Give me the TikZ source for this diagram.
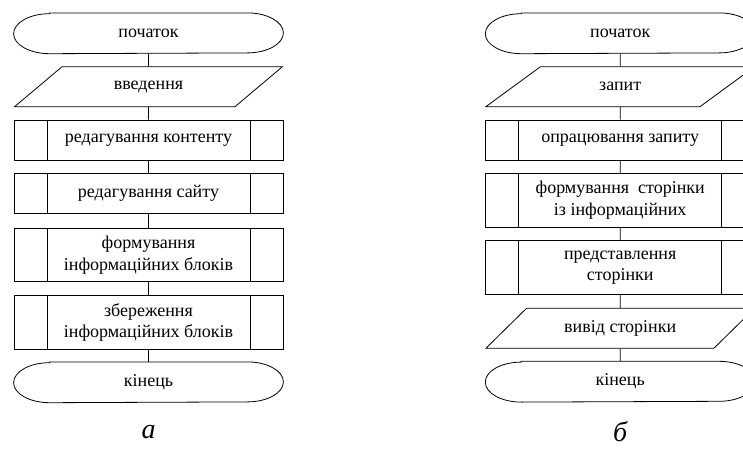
\documentclass[tikz,border=0pt]{standalone}
\usepackage{fontspec}
\setmainfont{Liberation Serif}
\usetikzlibrary{shapes.geometric}

\begin{document}
\begin{tikzpicture}[x=0.75pt, y=-0.75pt, line width=0.6pt,
    every node/.style={font=\fontsize{13.5}{16.3}\selectfont, align=center, inner sep=1pt},
    term/.style={minimum width=201.75pt, minimum height=30pt},
    io/.style={draw, trapezium, trapezium left angle=36.5, trapezium right angle=143.5,
        trapezium stretches=true, minimum width=201.75pt, minimum height=30pt},
    proc/.style={draw, minimum width=201.75pt, minimum height=30pt,
        path picture={
            \draw ([xshift=24.75pt]path picture bounding box.north west) -- ([xshift=24.75pt]path picture bounding box.south west);
            \draw ([xshift=-24.75pt]path picture bounding box.north east) -- ([xshift=-24.75pt]path picture bounding box.south east);
        }},
    caption/.style={font=\fontsize{21}{25}\selectfont\itshape}]
    \useasboundingbox (0,0) rectangle (743,450);

    % Chart a
    \node[term] (a1) at (148.5, 33.3) {початок};
    \node[io] (a2) at (148.5, 86.7) {введення};
    \node[proc] (a3) at (148.5, 140) {редагування контенту};
    \node[proc] (a4) at (148.5, 193.3) {редагування сайту};
    \node[proc, minimum height=40pt] (a5) at (148.5, 255) {формування\\інформаційних блоків};
    \node[proc, minimum height=41pt] (a6) at (148.5, 322.5) {збереження\\інформаційних блоків};
    \node[term] (a7) at (148.5, 382.3) {кінець};
    \node[caption] (ca) at (148.5, 432) {а};
    \draw (a1) -- (a2) -- (a3) -- (a4) -- (a5) -- (a6) -- (a7);

    % Chart b
    \node[term] (b1) at (620.2, 33.3) {початок};
    \node[io] (b2) at (620.2, 86.7) {запит};
    \node[proc] (b3) at (620.2, 140) {опрацювання запиту};
    \node[proc, minimum height=40.5pt] (b4) at (620.2, 200.3) {формування~ сторінки\\із інформаційних};
    \node[proc, minimum height=40.5pt] (b5) at (620.2, 267.8) {представлення\\сторінки};
    \node[io] (b6) at (620.2, 328.3) {вивід сторінки};
    \node[term] (b7) at (620.2, 381.7) {кінець};
    \node[caption] (cb) at (620.2, 432) {б};
    \draw (b1) -- (b2) -- (b3) -- (b4) -- (b5) -- (b6) -- (b7);

    % terminals
    \foreach \n in {a1,a7,b1,b7}
        \draw ([xshift=27pt]\n.north west) -- ([xshift=-27pt]\n.north east)
            arc[start angle=90, end angle=-90, x radius=27pt, y radius=15pt]
            -- ([xshift=27pt]\n.south west)
            arc[start angle=270, end angle=90, x radius=27pt, y radius=15pt] -- cycle;
\end{tikzpicture}
\end{document}
